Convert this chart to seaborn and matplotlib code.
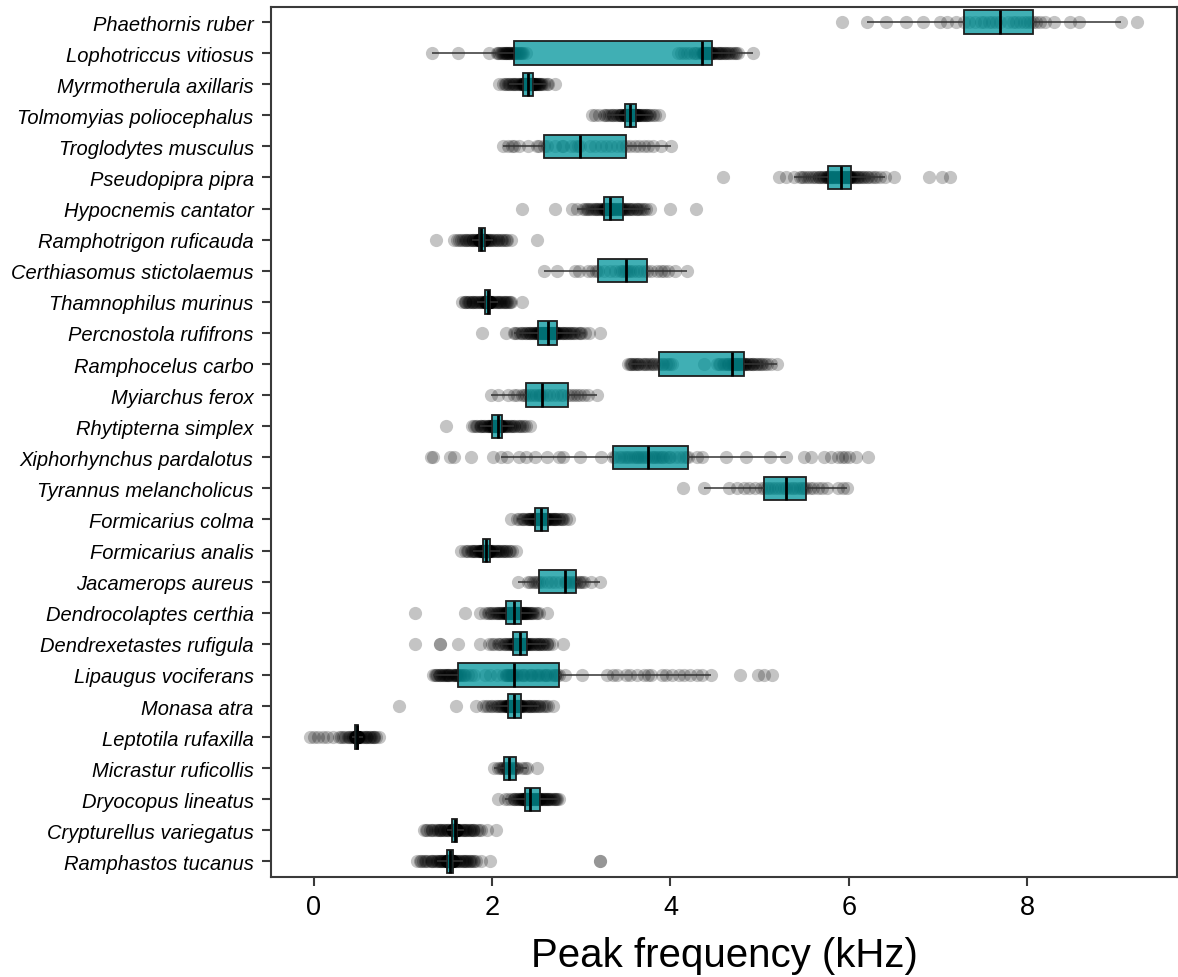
import numpy as np
import pandas as pd
import matplotlib
matplotlib.use("Agg")
import matplotlib.pyplot as plt
import matplotlib.colors as mcolors
import seaborn as sns

species = [
    "Phaethornis ruber", "Lophotriccus vitiosus", "Myrmotherula axillaris",
    "Tolmomyias poliocephalus", "Troglodytes musculus", "Pseudopipra pipra",
    "Hypocnemis cantator", "Ramphotrigon ruficauda", "Certhiasomus stictolaemus",
    "Thamnophilus murinus", "Percnostola rufifrons", "Ramphocelus carbo",
    "Myiarchus ferox", "Rhytipterna simplex", "Xiphorhynchus pardalotus",
    "Tyrannus melancholicus", "Formicarius colma", "Formicarius analis",
    "Jacamerops aureus", "Dendrocolaptes certhia", "Dendrexetastes rufigula",
    "Lipaugus vociferans", "Monasa atra", "Leptotila rufaxilla",
    "Micrastur ruficollis", "Dryocopus lineatus", "Crypturellus variegatus",
    "Ramphastos tucanus",
]

# Peak frequency observations (kHz) per species
phaethornis_ruber = [5.92, 6.20, 6.42, 6.64, 6.83, 7.02, 7.10, 7.20, 7.29,
    7.35, 7.42, 7.48, 7.52, 7.57, 7.60, 7.65, 7.70,
    7.78, 7.84, 7.88, 7.92, 7.96, 8.00, 8.03, 8.06,
    8.10, 8.14, 8.20, 8.30, 8.48, 8.58, 9.05, 9.23]
lophotriccus_vitiosus = [1.32, 1.62, 1.97, 2.05, 2.08, 2.10, 2.12, 2.14, 2.15, 2.17, 2.18, 2.19, 2.20, 2.21, 2.22, 2.24,
    2.25, 2.27, 2.28, 2.30, 2.32, 2.35, 2.38, 4.08, 4.12, 4.18, 4.22, 4.26, 4.30, 4.33, 4.35,
    4.36, 4.37, 4.38, 4.38, 4.39, 4.40, 4.40, 4.41, 4.42, 4.43, 4.43, 4.44, 4.45, 4.45, 4.46,
    4.47, 4.48, 4.50, 4.52, 4.54, 4.56, 4.58, 4.60, 4.62, 4.65, 4.68, 4.70, 4.73, 4.76, 4.92,
    2.07, 2.11, 2.13, 2.16, 2.19, 2.23, 2.26, 2.29, 2.31, 2.34, 4.15, 4.28,
    4.365, 4.375, 4.395, 4.405, 4.415, 4.435, 4.49, 4.53, 4.57, 4.61, 4.66, 4.72]
myrmotherula_axillaris = [2.08, 2.12, 2.15, 2.18, 2.20, 2.23, 2.25, 2.27, 2.29, 2.31, 2.32, 2.335, 2.345,
    2.35, 2.355, 2.36, 2.365, 2.37, 2.375, 2.38, 2.385, 2.39, 2.393, 2.397, 2.40,
    2.405, 2.41, 2.415, 2.42, 2.425, 2.43, 2.435, 2.44, 2.445, 2.45, 2.452, 2.455,
    2.46, 2.47, 2.48, 2.49, 2.50, 2.52, 2.54, 2.56, 2.58, 2.61, 2.63, 2.71,
    2.14, 2.19, 2.22, 2.26, 2.30, 2.33, 2.352, 2.362, 2.372, 2.382, 2.388, 2.395,
    2.408, 2.418, 2.428, 2.438, 2.448, 2.453, 2.465, 2.475, 2.495, 2.51, 2.53, 2.55]
tolmomyias_poliocephalus = [3.12, 3.15, 3.20, 3.25, 3.29, 3.33, 3.36, 3.39, 3.42, 3.44, 3.46, 3.475, 3.485,
    3.49, 3.495, 3.50, 3.505, 3.51, 3.515, 3.52, 3.525, 3.53, 3.535, 3.54, 3.545,
    3.55, 3.555, 3.56, 3.565, 3.57, 3.575, 3.58, 3.59, 3.60, 3.605, 3.61, 3.615,
    3.62, 3.63, 3.64, 3.66, 3.68, 3.70, 3.72, 3.74, 3.77, 3.80, 3.83, 3.87,
    3.27, 3.31, 3.35, 3.40, 3.43, 3.45, 3.488, 3.498, 3.508, 3.518, 3.528, 3.538,
    3.552, 3.562, 3.572, 3.585, 3.595, 3.608, 3.635, 3.65, 3.67, 3.69, 3.73, 3.76]
troglodytes_musculus = [2.12, 2.18, 2.22, 2.25, 2.30, 2.40, 2.50, 2.53, 2.58,
    2.62, 2.70, 2.78, 2.80, 2.88, 2.93, 2.96, 2.99,
    3.10, 3.15, 3.22, 3.28, 3.33, 3.40, 3.46, 3.505,
    3.55, 3.60, 3.65, 3.70, 3.75, 3.80, 3.89, 4.01]
pseudopipra_pipra = [4.59, 5.22, 5.30, 5.38, 5.45, 5.50, 5.55, 5.59, 5.63, 5.66, 5.69, 5.72, 5.74, 5.755, 5.765,
    5.775, 5.785, 5.795, 5.805, 5.815, 5.825, 5.835, 5.85, 5.86, 5.875, 5.885, 5.895, 5.905, 5.915,
    5.925, 5.935, 5.94, 5.95, 5.955, 5.965, 5.975, 5.98, 5.99, 6.00, 6.005, 6.01, 6.02, 6.025,
    6.05, 6.07, 6.09, 6.11, 6.14, 6.17, 6.20, 6.25, 6.30, 6.40, 6.51, 6.90, 7.04, 7.14,
    5.47, 5.53, 5.61, 5.67, 5.71, 5.75, 5.78, 5.81, 5.83, 5.855, 5.88, 5.90,
    5.93, 5.945, 5.96, 5.985, 6.00, 6.015, 6.06, 6.10, 6.16, 6.22, 6.28, 6.35]
hypocnemis_cantator = [2.34, 2.70, 2.90, 2.95, 3.02, 3.06, 3.10, 3.14, 3.17, 3.20, 3.22, 3.24, 3.255,
    3.26, 3.265, 3.27, 3.28, 3.285, 3.29, 3.30, 3.305, 3.31, 3.315, 3.32, 3.325,
    3.335, 3.345, 3.355, 3.365, 3.375, 3.39, 3.40, 3.415, 3.43, 3.44, 3.455, 3.465,
    3.48, 3.50, 3.52, 3.55, 3.58, 3.61, 3.64, 3.68, 3.72, 3.77, 4.00, 4.29,
    3.04, 3.08, 3.12, 3.16, 3.19, 3.23, 3.262, 3.275, 3.288, 3.298, 3.308, 3.318,
    3.34, 3.36, 3.38, 3.41, 3.435, 3.45, 3.49, 3.53, 3.57, 3.62, 3.66, 3.70]
ramphotrigon_ruficauda = [1.365, 1.57, 1.61, 1.65, 1.69, 1.72, 1.75, 1.77, 1.79, 1.81, 1.83, 1.84, 1.85,
    1.853, 1.856, 1.859, 1.862, 1.865, 1.868, 1.871, 1.873, 1.875, 1.877, 1.878, 1.88,
    1.883, 1.886, 1.889, 1.892, 1.895, 1.898, 1.901, 1.904, 1.907, 1.91, 1.912, 1.915,
    1.93, 1.95, 1.97, 1.99, 2.01, 2.04, 2.07, 2.10, 2.13, 2.17, 2.21, 2.50,
    1.63, 1.67, 1.71, 1.74, 1.78, 1.82, 1.855, 1.86, 1.866, 1.87, 1.874, 1.879,
    1.885, 1.891, 1.897, 1.903, 1.908, 1.913, 1.94, 1.98, 2.02, 2.06, 2.11, 2.16]
certhiasomus_stictolaemus = [2.58, 2.73, 2.93, 2.97, 3.08, 3.12, 3.16, 3.19,
    3.25, 3.32, 3.38, 3.43, 3.46, 3.48, 3.50,
    3.52, 3.55, 3.58, 3.62, 3.66, 3.70, 3.74,
    3.78, 3.85, 3.89, 3.93, 3.97, 4.05, 4.19]
thamnophilus_murinus = [1.665, 1.69, 1.71, 1.73, 1.75, 1.77, 1.79, 1.81, 1.83, 1.85, 1.87, 1.89, 1.905, 1.92,
    1.923, 1.926, 1.929, 1.932, 1.934, 1.936, 1.938, 1.94, 1.942, 1.944, 1.946, 1.948, 1.95,
    1.952, 1.954, 1.956, 1.958, 1.96, 1.962, 1.964, 1.966, 1.969, 1.972, 1.975, 1.978, 1.98,
    1.99, 2.00, 2.02, 2.04, 2.06, 2.08, 2.10, 2.12, 2.14, 2.16, 2.19, 2.215, 2.33,
    1.70, 1.74, 1.78, 1.82, 1.86, 1.90, 1.925, 1.931, 1.937, 1.941, 1.945, 1.949,
    1.953, 1.957, 1.961, 1.965, 1.971, 1.977, 2.01, 2.05, 2.09, 2.13, 2.17, 2.20]
percnostola_rufifrons = [1.89, 2.155, 2.24, 2.28, 2.31, 2.34, 2.37, 2.39, 2.41, 2.43, 2.45, 2.47, 2.48, 2.495, 2.505, 2.515,
    2.525, 2.53, 2.54, 2.545, 2.555, 2.56, 2.57, 2.575, 2.585, 2.59, 2.60, 2.605, 2.61, 2.62, 2.625,
    2.63, 2.64, 2.645, 2.655, 2.66, 2.67, 2.675, 2.685, 2.69, 2.70, 2.705, 2.71, 2.72, 2.725, 2.73,
    2.74, 2.76, 2.78, 2.80, 2.82, 2.84, 2.86, 2.88, 2.91, 2.94, 2.97, 3.00, 3.04, 3.09, 3.205,
    2.26, 2.33, 2.38, 2.42, 2.46, 2.50, 2.535, 2.55, 2.565, 2.58, 2.595, 2.615,
    2.635, 2.65, 2.665, 2.68, 2.695, 2.715, 2.75, 2.79, 2.83, 2.87, 2.92, 2.99]
ramphocelus_carbo = [3.52, 3.55, 3.57, 3.59, 3.62, 3.65, 3.68, 3.71, 3.74, 3.78, 3.82, 3.85, 3.875,
    3.92, 3.97, 4.02, 4.38, 4.52, 4.56, 4.59, 4.62, 4.64, 4.66, 4.675, 4.69,
    4.70, 4.71, 4.72, 4.73, 4.74, 4.75, 4.76, 4.77, 4.78, 4.795, 4.81, 4.82,
    4.83, 4.85, 4.87, 4.89, 4.91, 4.93, 4.96, 4.99, 5.03, 5.08, 5.13, 5.19,
    3.56, 3.60, 3.64, 3.70, 3.76, 3.80, 3.90, 3.95, 4.00, 4.54, 4.60, 4.65,
    4.705, 4.725, 4.745, 4.765, 4.785, 4.805, 4.84, 4.88, 4.92, 4.97, 5.01, 5.06]
myiarchus_ferox = [1.99, 2.07, 2.18, 2.24, 2.28, 2.33, 2.36, 2.38,
    2.41, 2.44, 2.465, 2.49, 2.52, 2.54, 2.555,
    2.60, 2.64, 2.68, 2.73, 2.77, 2.80, 2.85,
    2.88, 2.92, 2.95, 2.99, 3.03, 3.07, 3.18]
rhytipterna_simplex = [1.48, 1.77, 1.80, 1.83, 1.86, 1.88, 1.90, 1.92, 1.94, 1.96, 1.975, 1.99, 2.00,
    2.005, 2.01, 2.015, 2.02, 2.025, 2.03, 2.035, 2.04, 2.045, 2.05, 2.055, 2.06,
    2.064, 2.068, 2.072, 2.076, 2.08, 2.084, 2.088, 2.092, 2.096, 2.10, 2.102, 2.105,
    2.12, 2.14, 2.16, 2.18, 2.20, 2.22, 2.25, 2.28, 2.31, 2.34, 2.38, 2.42,
    1.82, 1.87, 1.91, 1.95, 1.97, 1.985, 2.008, 2.018, 2.028, 2.038, 2.048, 2.058,
    2.066, 2.074, 2.082, 2.09, 2.098, 2.104, 2.13, 2.17, 2.21, 2.24, 2.30, 2.36]
xiphorhynchus_pardalotus = [1.31, 1.34, 1.53, 1.57, 1.76, 2.01, 2.10, 2.17, 2.30, 2.38, 2.48, 2.62, 2.75, 2.80, 2.98, 3.22, 3.35,
    3.38, 3.42, 3.45, 3.48, 3.50, 3.52, 3.55, 3.58, 3.60, 3.62, 3.64, 3.66, 3.68, 3.70, 3.72, 3.75,
    3.78, 3.80, 3.82, 3.84, 3.86, 3.88, 3.90, 3.92, 3.95, 3.98, 4.00, 4.05, 4.10, 4.14, 4.17, 4.195,
    4.30, 4.35, 4.62, 4.85, 5.12, 5.30, 5.50, 5.58, 5.72, 5.80, 5.88, 5.92, 5.96, 6.00, 6.08, 6.22]
tyrannus_melancholicus = [4.14, 4.38, 4.66, 4.75, 4.82, 4.88, 4.95, 5.01, 5.045,
    5.08, 5.11, 5.14, 5.17, 5.20, 5.24, 5.27, 5.30,
    5.33, 5.36, 5.39, 5.42, 5.45, 5.48, 5.50, 5.52,
    5.56, 5.60, 5.65, 5.70, 5.76, 5.88, 5.94, 5.98]
formicarius_colma = [2.21, 2.28, 2.33, 2.36, 2.39, 2.41, 2.43, 2.45, 2.46, 2.47, 2.475,
    2.48, 2.49, 2.50, 2.51, 2.515, 2.52, 2.53, 2.535, 2.54, 2.55,
    2.56, 2.565, 2.57, 2.58, 2.59, 2.595, 2.60, 2.61, 2.62, 2.625,
    2.64, 2.66, 2.68, 2.70, 2.72, 2.74, 2.77, 2.80, 2.83, 2.86,
    2.30, 2.35, 2.40, 2.42, 2.44, 2.465, 2.485, 2.495, 2.505, 2.52, 2.53, 2.545,
    2.555, 2.568, 2.578, 2.588, 2.60, 2.615, 2.65, 2.67, 2.69, 2.71, 2.75, 2.78]
formicarius_analis = [1.65, 1.70, 1.73, 1.76, 1.78, 1.80, 1.82, 1.84, 1.855, 1.865, 1.875, 1.885, 1.89, 1.895,
    1.898, 1.902, 1.905, 1.909, 1.912, 1.915, 1.918, 1.921, 1.924, 1.927, 1.93, 1.932, 1.935,
    1.938, 1.941, 1.944, 1.947, 1.95, 1.953, 1.956, 1.959, 1.962, 1.966, 1.969, 1.972, 1.975,
    1.985, 1.995, 2.01, 2.03, 2.05, 2.07, 2.09, 2.11, 2.13, 2.16, 2.19, 2.22, 2.27,
    1.72, 1.77, 1.81, 1.85, 1.87, 1.88, 1.90, 1.907, 1.914, 1.92, 1.926, 1.931,
    1.94, 1.946, 1.952, 1.958, 1.964, 1.97, 2.00, 2.04, 2.08, 2.12, 2.15, 2.20]
jacamerops_aureus = [2.29, 2.40, 2.43, 2.46, 2.48, 2.50, 2.52,
    2.56, 2.62, 2.66, 2.70, 2.76, 2.815,
    2.83, 2.85, 2.87, 2.89, 2.92, 2.945,
    2.97, 2.99, 3.01, 3.03, 3.11, 3.21]
dendrocolaptes_certhia = [1.14, 1.70, 1.865, 1.92, 1.96, 1.99, 2.02, 2.04, 2.06, 2.08, 2.10, 2.115, 2.13, 2.14, 2.15,
    2.16, 2.165, 2.17, 2.18, 2.185, 2.19, 2.20, 2.205, 2.21, 2.22, 2.225, 2.23, 2.235, 2.24,
    2.245, 2.25, 2.26, 2.265, 2.27, 2.275, 2.28, 2.29, 2.295, 2.30, 2.305, 2.31, 2.315, 2.32,
    2.33, 2.34, 2.35, 2.36, 2.37, 2.38, 2.39, 2.40, 2.42, 2.44, 2.46, 2.49, 2.52, 2.62,
    1.95, 2.00, 2.05, 2.09, 2.12, 2.145, 2.163, 2.175, 2.195, 2.215, 2.228, 2.238,
    2.248, 2.262, 2.278, 2.285, 2.302, 2.318, 2.345, 2.365, 2.385, 2.41, 2.45, 2.50]
dendrexetastes_rufigula = [1.14, 1.41, 1.42, 1.615, 1.865, 1.97, 2.02, 2.06, 2.10, 2.13, 2.16, 2.19, 2.21, 2.225, 2.235,
    2.24, 2.25, 2.255, 2.26, 2.27, 2.275, 2.28, 2.285, 2.29, 2.295, 2.30, 2.305, 2.31, 2.315,
    2.32, 2.325, 2.33, 2.335, 2.34, 2.345, 2.35, 2.355, 2.36, 2.365, 2.37, 2.378, 2.384, 2.39,
    2.40, 2.42, 2.44, 2.46, 2.48, 2.50, 2.52, 2.54, 2.56, 2.58, 2.61, 2.64, 2.67, 2.80,
    2.00, 2.08, 2.14, 2.18, 2.20, 2.23, 2.245, 2.258, 2.272, 2.288, 2.298, 2.312,
    2.322, 2.332, 2.342, 2.352, 2.368, 2.386, 2.41, 2.45, 2.49, 2.53, 2.57, 2.62]
lipaugus_vociferans = [1.34, 1.36, 1.38, 1.40, 1.42, 1.44, 1.46, 1.47, 1.49, 1.50, 1.52, 1.53, 1.55, 1.56, 1.58, 1.59, 1.60, 1.61, 1.615,
    1.63, 1.65, 1.67, 1.70, 1.73, 1.76, 1.80, 1.92, 1.98, 2.05, 2.12, 2.15, 2.17, 2.19, 2.20, 2.22, 2.23, 2.24,
    2.27, 2.30, 2.33, 2.36, 2.39, 2.42, 2.45, 2.48, 2.51, 2.54, 2.57, 2.60, 2.62, 2.65, 2.68, 2.71, 2.73, 2.755,
    2.82, 3.01, 3.29, 3.40, 3.50, 3.62, 3.70, 3.78, 3.90, 4.02, 4.10, 4.22, 4.35, 4.45, 4.78, 4.98, 5.05, 5.14,
    1.37, 1.41, 1.45, 1.48, 1.51, 1.57, 1.64, 1.68, 2.16, 2.18, 2.21, 2.225,
    2.28, 2.35, 2.44, 2.50, 2.59, 2.70, 3.35, 3.55, 3.75, 3.95, 4.15, 4.30]
monasa_atra = [0.96, 1.60, 1.82, 1.90, 1.95, 1.99, 2.03, 2.06, 2.09, 2.11, 2.13, 2.15, 2.16, 2.17, 2.175,
    2.18, 2.185, 2.19, 2.195, 2.20, 2.21, 2.215, 2.22, 2.225, 2.23, 2.235, 2.24, 2.245, 2.25,
    2.255, 2.26, 2.265, 2.27, 2.275, 2.28, 2.285, 2.29, 2.295, 2.30, 2.31, 2.315, 2.32, 2.325,
    2.34, 2.36, 2.38, 2.40, 2.42, 2.44, 2.46, 2.48, 2.50, 2.53, 2.56, 2.60, 2.63, 2.68,
    1.93, 2.00, 2.05, 2.10, 2.14, 2.165, 2.183, 2.198, 2.205, 2.218, 2.232, 2.243,
    2.258, 2.268, 2.278, 2.288, 2.298, 2.318, 2.35, 2.39, 2.43, 2.47, 2.52, 2.58]
leptotila_rufaxilla = [-0.04, 0.00, 0.05, 0.10, 0.15, 0.22, 0.28, 0.33, 0.38, 0.43, 0.465,
    0.467, 0.469, 0.47, 0.472, 0.474, 0.475, 0.477, 0.478, 0.479, 0.48,
    0.482, 0.484, 0.486, 0.488, 0.49, 0.492, 0.494, 0.496, 0.498, 0.50,
    0.52, 0.55, 0.58, 0.60, 0.62, 0.64, 0.66, 0.68, 0.70, 0.73,
    0.30, 0.35, 0.39, 0.41, 0.44, 0.45, 0.466, 0.468, 0.471, 0.473, 0.476, 0.4785,
    0.481, 0.485, 0.489, 0.493, 0.495, 0.497, 0.51, 0.53, 0.56, 0.59, 0.63, 0.67]
micrastur_ruficollis = [2.02, 2.06, 2.09, 2.11, 2.12, 2.13,
    2.15, 2.16, 2.17, 2.18, 2.19,
    2.21, 2.22, 2.24, 2.25, 2.265,
    2.28, 2.33, 2.37, 2.39, 2.50]
dryocopus_lineatus = [2.065, 2.14, 2.18, 2.21, 2.24, 2.26, 2.28, 2.30, 2.32, 2.34, 2.35, 2.36, 2.365,
    2.37, 2.375, 2.38, 2.385, 2.39, 2.395, 2.40, 2.405, 2.41, 2.415, 2.42, 2.425,
    2.435, 2.445, 2.455, 2.465, 2.475, 2.485, 2.495, 2.505, 2.515, 2.525, 2.535, 2.54,
    2.55, 2.565, 2.58, 2.595, 2.61, 2.625, 2.64, 2.66, 2.68, 2.70, 2.72, 2.755,
    2.25, 2.29, 2.31, 2.33, 2.345, 2.355, 2.372, 2.382, 2.392, 2.402, 2.412, 2.418,
    2.44, 2.46, 2.48, 2.50, 2.52, 2.53, 2.56, 2.59, 2.62, 2.65, 2.69, 2.73]
crypturellus_variegatus = [1.24, 1.27, 1.30, 1.33, 1.36, 1.39, 1.41, 1.43, 1.45, 1.47, 1.49, 1.51, 1.53, 1.545, 1.555,
    1.559, 1.562, 1.565, 1.567, 1.569, 1.571, 1.572, 1.573, 1.575, 1.576, 1.577, 1.578, 1.579, 1.58,
    1.582, 1.584, 1.586, 1.588, 1.59, 1.591, 1.593, 1.595, 1.597, 1.599, 1.601, 1.602, 1.604, 1.605,
    1.62, 1.64, 1.66, 1.68, 1.70, 1.72, 1.74, 1.76, 1.78, 1.80, 1.83, 1.87, 1.94, 2.04,
    1.26, 1.32, 1.38, 1.42, 1.46, 1.50, 1.558, 1.563, 1.568, 1.572, 1.575, 1.578,
    1.583, 1.587, 1.59, 1.594, 1.598, 1.603, 1.63, 1.67, 1.71, 1.75, 1.79, 1.85]
ramphastos_tucanus = [1.16, 1.19, 1.22, 1.25, 1.28, 1.31, 1.33, 1.35, 1.37, 1.39, 1.41, 1.43, 1.45, 1.46, 1.47, 1.48, 1.49,
    1.493, 1.495, 1.497, 1.50, 1.502, 1.505, 1.507, 1.51, 1.512, 1.514, 1.516, 1.518, 1.52, 1.521, 1.523, 1.525,
    1.528, 1.53, 1.533, 1.535, 1.538, 1.54, 1.543, 1.545, 1.548, 1.55, 1.553, 1.555, 1.558, 1.56, 1.563, 1.565,
    1.58, 1.60, 1.62, 1.64, 1.66, 1.68, 1.70, 1.72, 1.74, 1.76, 1.79, 1.82, 1.88, 1.975, 3.215, 3.215,
    1.20, 1.26, 1.32, 1.38, 1.42, 1.44, 1.494, 1.499, 1.504, 1.509, 1.513, 1.519,
    1.53, 1.537, 1.544, 1.55, 1.556, 1.562, 1.59, 1.63, 1.67, 1.71, 1.75, 1.80]

observations = [
    phaethornis_ruber, lophotriccus_vitiosus, myrmotherula_axillaris,
    tolmomyias_poliocephalus, troglodytes_musculus, pseudopipra_pipra,
    hypocnemis_cantator, ramphotrigon_ruficauda, certhiasomus_stictolaemus,
    thamnophilus_murinus, percnostola_rufifrons, ramphocelus_carbo,
    myiarchus_ferox, rhytipterna_simplex, xiphorhynchus_pardalotus,
    tyrannus_melancholicus, formicarius_colma, formicarius_analis,
    jacamerops_aureus, dendrocolaptes_certhia, dendrexetastes_rufigula,
    lipaugus_vociferans, monasa_atra, leptotila_rufaxilla,
    micrastur_ruficollis, dryocopus_lineatus, crypturellus_variegatus,
    ramphastos_tucanus,
]

rows = []
for name, vals in zip(species, observations):
    for v in vals:
        rows.append((name, v))
df = pd.DataFrame(rows, columns=["species", "peak_khz"])

sns.set_theme(style="ticks")
plt.rcParams["font.family"] = ["Liberation Sans", "DejaVu Sans"]

fig = plt.figure(figsize=(11.78, 9.78), dpi=100)
ax = fig.add_axes([271 / 1178, 1 - 878 / 978, (1177 - 271) / 1178, (878 - 7.5) / 978])

# points first, boxes drawn over them with a translucent fill
sns.stripplot(
    data=df, x="peak_khz", y="species", order=species, orient="h",
    color="black", alpha=0.23, size=9.5, jitter=False, linewidth=0,
    ax=ax, zorder=1,
)

box_color = "#00959b"
edge = "#1e1e1e"
sns.boxplot(
    data=df, x="peak_khz", y="species", order=species, orient="h",
    color=box_color, saturation=1, width=0.75, showfliers=False, showcaps=False,
    linewidth=1.3, linecolor=edge,
    medianprops={"color": "black", "linewidth": 2.0},
    whiskerprops={"color": "#333333", "linewidth": 1.1},
    ax=ax,
)
face = mcolors.to_rgba(box_color, 0.75)
for p in ax.patches:
    p.set_facecolor(face)
    p.set_zorder(2)

ax.set_xlim(-0.48, 9.68)
ax.set_ylim(len(species) - 0.5, -0.5)
ax.set_xticks([0, 2, 4, 6, 8])
ax.set_ylabel("")
ax.set_xlabel("Peak frequency (kHz)", fontsize=29, color="black", labelpad=11)

for side in ["left", "right", "top", "bottom"]:
    ax.spines[side].set_visible(True)
    ax.spines[side].set_color("#3a3a3a")
    ax.spines[side].set_linewidth(1.5)

ax.tick_params(axis="x", labelsize=19.5, length=6.5, width=1.5, color="#3a3a3a", pad=6, labelcolor="black")
ax.tick_params(axis="y", labelsize=14.5, length=6.5, width=1.5, color="#3a3a3a", pad=6, labelcolor="black")
for lab in ax.get_yticklabels():
    lab.set_fontstyle("italic")

fig.savefig("out.png", dpi=100)
